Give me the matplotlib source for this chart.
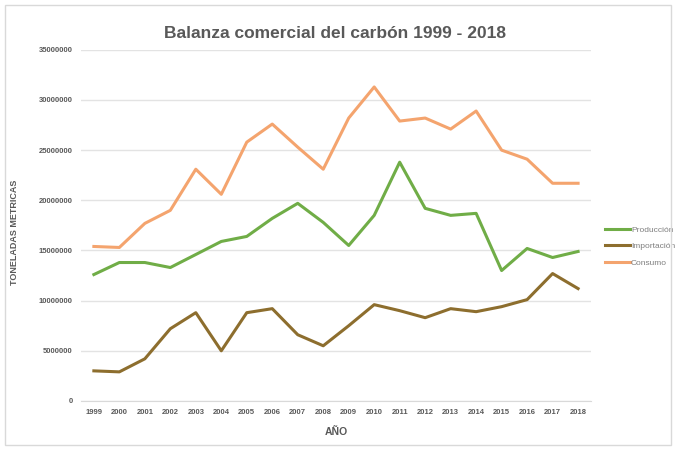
import matplotlib
matplotlib.use("Agg")
import matplotlib.pyplot as plt
from matplotlib.patches import Rectangle

# Datos (millones de toneladas)
anios = ['1999', '2000', '2001', '2002', '2003', '2004', '2005', '2006', '2007', '2008',
         '2009', '2010', '2011', '2012', '2013', '2014', '2015', '2016', '2017', '2018']
produccion = [12.6, 13.8, 13.8, 13.3, 14.6, 15.9, 16.4, 18.2, 19.7, 17.8,
              15.5, 18.5, 23.8, 19.2, 18.5, 18.7, 13.0, 15.2, 14.3, 14.9]
importacion = [3.0, 2.9, 4.2, 7.2, 8.8, 5.0, 8.8, 9.2, 6.6, 5.5,
               7.5, 9.6, 9.0, 8.3, 9.2, 8.9, 9.4, 10.1, 12.7, 11.2]
consumo = [15.4, 15.3, 17.7, 19.0, 23.1, 20.6, 25.8, 27.6, 25.3, 23.1,
           28.2, 31.3, 27.9, 28.2, 27.1, 28.9, 25.0, 24.1, 21.7, 21.7]
y_ticks = [0, 5000000, 10000000, 15000000, 20000000, 25000000, 30000000, 35000000]

plt.rcParams['font.family'] = ['Liberation Sans', 'DejaVu Sans']
gris = '#595959'

fig = plt.figure(figsize=(6.76, 4.49), dpi=100)
ax = fig.add_axes([0.12, 0.107, 0.754, 0.782])

x = range(len(anios))
ax.plot(x, [v * 1e6 for v in produccion], color='#70AD47', lw=2.2, label='Producción')
ax.plot(x, [v * 1e6 for v in importacion], color='#8D6E2E', lw=2.2, label='Importación')
ax.plot(x, [v * 1e6 for v in consumo], color='#F4A46E', lw=2.2, label='Consumo')

ax.set_xlim(-0.5, len(anios) - 0.5)
ax.set_ylim(0, 35000000)
ax.set_xticks(list(x))
ax.set_xticklabels(anios)
ax.set_yticks(y_ticks)
ax.set_yticklabels([str(t) for t in y_ticks])
ax.tick_params(length=0, labelsize=5.5, labelcolor=gris, pad=6)
for lab in ax.get_xticklabels() + ax.get_yticklabels():
    lab.set_fontweight('bold')

ax.grid(axis='y', color='#e3e3e3', lw=1)
ax.set_axisbelow(True)
for s in ['top', 'right', 'left']:
    ax.spines[s].set_visible(False)
ax.spines['bottom'].set_color('#d9d9d9')

ax.set_xlabel('AÑO', fontsize=7.5, fontweight='bold', color=gris, labelpad=8)
ax.set_ylabel('TONELADAS METRICAS', fontsize=6.5, fontweight='bold', color=gris, labelpad=10)
ax.yaxis.set_label_coords(-0.122, 0.48)
fig.text(0.496, 0.926, 'Balanza comercial del carbón 1999 - 2018', ha='center', va='center',
         fontsize=12.5, fontweight='bold', color=gris)

leg = ax.legend(loc='center left', bbox_to_anchor=(1.014, 0.44), frameon=False,
                fontsize=6, handlelength=3.0, handletextpad=0.05, labelspacing=1.05)
for t in leg.get_texts():
    t.set_color('#7f7f7f')

fig.patches.append(Rectangle((0.008, 0.01), 0.984, 0.978, transform=fig.transFigure,
                             fill=False, edgecolor='#d9d9d9', lw=1))

fig.savefig('out.png', dpi=100)
